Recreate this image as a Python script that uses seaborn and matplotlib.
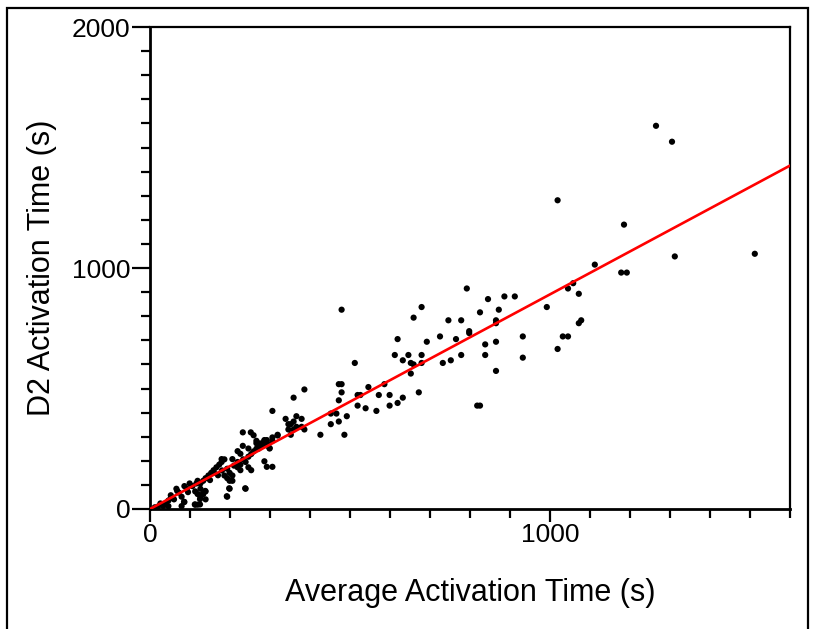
import matplotlib
matplotlib.use("Agg")
import matplotlib.pyplot as plt
import seaborn as sns
import pandas as pd
from matplotlib.ticker import MultipleLocator, FixedLocator
from matplotlib.patches import Rectangle

# ---- data ----
avg_time = [
    1265, 1305, 1019, 1185, 1312, 1512, 1112, 1178, 1192, 1058, 1045, 1072, 992, 1072, 1078, 1032, 1045, 1019,
    792, 886, 912, 845, 872, 825, 746, 778, 865, 865, 798, 798, 765, 725, 838, 865, 932, 732, 752, 778, 838,
    932, 865, 818, 825,
    479, 679, 659, 619, 692, 612, 646, 679, 632, 652, 659, 679, 512, 652, 672, 386, 472, 479, 479, 472, 546,
    586, 519, 526, 572, 599, 519, 539, 566, 599, 619, 632, 452, 466, 492, 379, 472, 452, 379, 386, 426, 486,
    359, 306, 339, 366, 346, 352, 359, 366, 346, 359, 352, 319, 306, 286, 292, 279, 292, 299, 286, 292, 306,
    232, 252, 259, 232, 246, 266, 272, 279, 299, 219, 226, 179, 206,
    12, 26, 33, 39, 46, 52, 52, 46, 79, 66, 72, 79, 86, 92, 99, 106, 86,
    116, 119, 126, 133, 139, 146, 153, 159, 166, 173, 179, 186, 113, 119, 126, 133, 139, 126, 139, 113, 119,
    193, 199, 206, 193, 199, 186, 206, 199, 193, 239,
    219, 226, 233, 239, 246, 253, 259, 266, 273, 279, 286, 293, 306, 319, 226, 219, 246, 253, 266, 273,
    138, 132, 125, 112, 125, 85, 68, 192, 198, 238, 60, 20, 95, 150, 160, 170, 210, 180,
]
d2_time = [
    1590, 1524, 1281, 1180, 1048, 1059, 1014, 981, 981, 937, 915, 893, 838, 771, 783, 716, 716, 664,
    915, 882, 882, 871, 827, 816, 783, 783, 783, 771, 738, 730, 705, 716, 683, 694, 716, 606, 617, 639, 639,
    628, 573, 429, 429,
    827, 838, 794, 705, 694, 639, 639, 639, 617, 606, 600, 606, 606, 562, 484, 496, 518, 518, 484, 451, 506,
    518, 473, 473, 473, 473, 429, 418, 407, 429, 440, 462, 396, 396, 385, 374, 363, 352, 341, 330, 308, 308,
    462, 407, 374, 385, 352, 352, 363, 341, 330, 330, 308, 308, 297, 286, 286, 264, 264, 253, 198, 175, 175,
    318, 318, 306, 262, 251, 273, 251, 262, 251, 240, 229, 207, 207,
    7, 23, 12, 23, 35, 46, 57, 12, 12, 84, 68, 51, 95, 84, 106, 95, 29,
    106, 117, 106, 117, 128, 139, 150, 161, 173, 184, 195, 206, 73, 62, 51, 62, 73, 84, 40, 18, 18,
    167, 150, 139, 128, 117, 139, 117, 84, 51, 84,
    195, 184, 206, 195, 217, 228, 239, 250, 261, 272, 283, 272, 283, 305, 161, 173, 173, 161, 283, 272,
    75, 63, 41, 19, 19, 30, 75, 53, 86, 86, 40, 10, 70, 120, 150, 140, 180, 160,
]
fit_x = [0, 1600]
fit_y = [0, 1425]

x_label = "Average Activation Time (s)"
y_label = "D2 Activation Time (s)"
x_ticks = [0, 1000]
y_ticks = [0, 1000, 2000]

# ---- plotting ----
sns.set_theme(style="white")
plt.rcParams["font.family"] = ["Liberation Sans", "DejaVu Sans"]

fig = plt.figure(figsize=(8.18, 6.29), dpi=100)
ax = fig.add_axes([150 / 818, 1 - 509 / 629, 640 / 818, 482 / 629])

pts = pd.DataFrame({"avg": avg_time, "d2": d2_time})
fit = pd.DataFrame({"x": fit_x, "y": fit_y})

sns.scatterplot(data=pts, x="avg", y="d2", ax=ax, color="black", s=20, marker="o",
                edgecolor="none", zorder=3)
sns.lineplot(data=fit, x="x", y="y", ax=ax, color="#ff0000", linewidth=1.9, zorder=4)

ax.set_xlim(0, 1600)
ax.set_ylim(0, 2000)
ax.xaxis.set_major_locator(FixedLocator(x_ticks))
ax.yaxis.set_major_locator(FixedLocator(y_ticks))
ax.xaxis.set_minor_locator(MultipleLocator(100))
ax.yaxis.set_minor_locator(MultipleLocator(100))

for sp in ax.spines.values():
    sp.set_color("black")
    sp.set_linewidth(1.6)
ax.spines["left"].set_linewidth(2.0)
ax.spines["bottom"].set_linewidth(2.0)

ax.tick_params(axis="both", which="major", direction="out", length=13, width=1.6,
               color="black", labelsize=19, labelcolor="black", pad=1,
               left=True, bottom=True)
ax.tick_params(axis="both", which="minor", direction="out", length=6.5, width=1.6,
               color="black", left=True, bottom=True)
ax.tick_params(axis="x", which="major", length=9, pad=1)

ax.set_xlabel(x_label, fontsize=22, color="black")
ax.set_ylabel(y_label, fontsize=22, color="black")
ax.xaxis.set_label_coords(0.5, -0.143)
ax.yaxis.set_label_coords(-0.145, 0.5)
ax.grid(False)

# outer figure frame
fig.patches.append(Rectangle((7 / 818, -0.05), (808 - 7) / 818, 1.05 - 8 / 629,
                             transform=fig.transFigure, fill=False,
                             edgecolor="black", linewidth=1.6))

fig.savefig("out.png", dpi=100, facecolor="white")
